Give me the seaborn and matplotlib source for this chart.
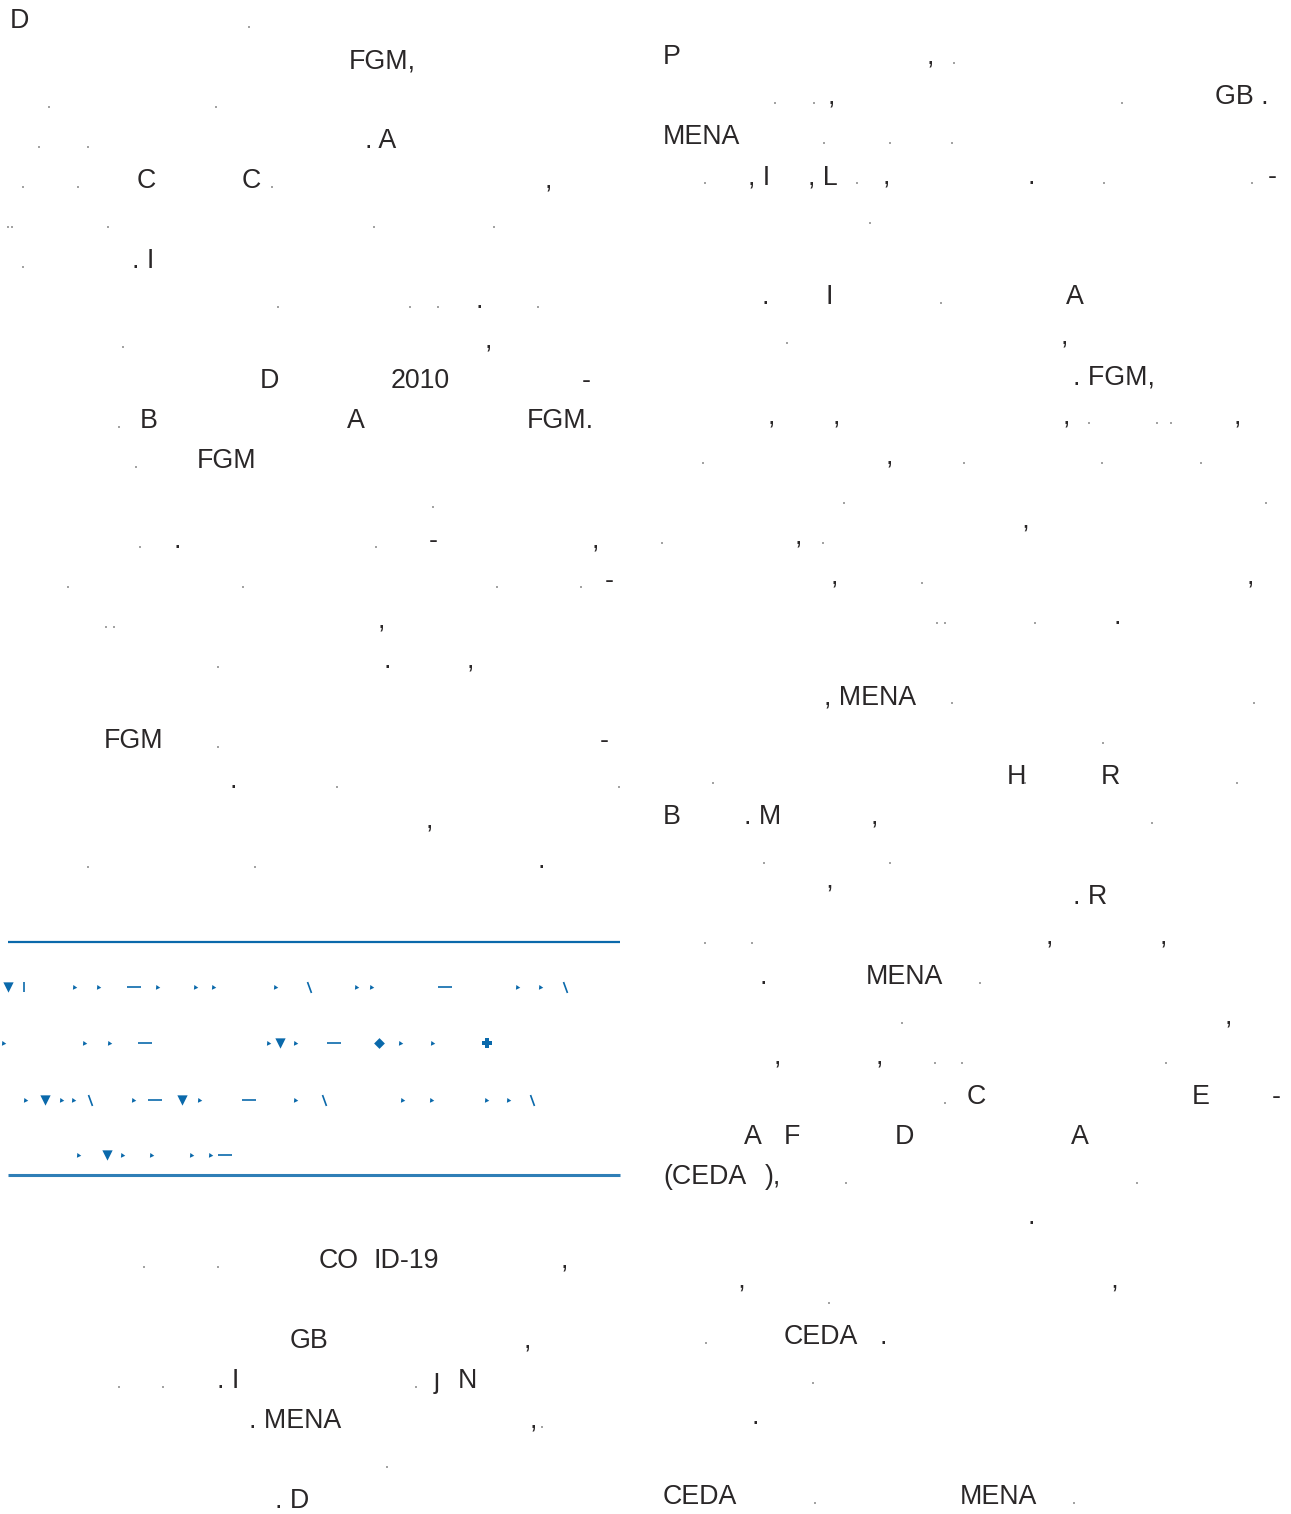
import matplotlib
matplotlib.use("agg")
import matplotlib.pyplot as plt
from matplotlib import font_manager
import seaborn as sns
import pandas as pd

# page geometry (pixels)
pageW = 1291
pageH = 1514
leftTop = 28
rightTop = 64
lineStep = 40

# left column: line index, x, text
leftLine = [0, 1, 3, 4, 4, 4, 6, 7, 8, 9, 9, 9, 10, 10, 10, 11, 13, 13, 13, 14, 15, 16, 16,
            18, 18, 19, 20, 21, 31, 31, 31, 33, 33, 34, 34, 34, 35, 35, 37]
leftX = [10, 349, 365, 137, 242, 545, 132, 475, 485, 260, 391, 582, 140, 347, 527, 197, 174, 429, 592, 605, 378, 384, 467,
         104, 600, 229, 426, 537, 319, 373, 561, 290, 524, 217, 434, 458, 249, 530, 275]
leftText = ["D", "FGM,", ". A", "C", "C", ",", ". I", ".", ",", "D", "2010", "-", "B", "A", "FGM.", "FGM", ".", "-", ",", "-", ",", ".", ",",
            "FGM", "-", ".", ",", ".", "CO", "ID-19", ",", "GB", ",", ". I", "ȷ", "N", ". MENA", ",", ". D"]

# left column specks (broken glyph remains)
leftSpeckLine = [0, 2, 2, 3, 3, 4, 4, 4, 5, 5, 5, 5, 5, 6, 7, 7, 7, 7, 8, 10, 11, 12, 13, 13, 14, 14, 14, 14,
                 15, 15, 16, 18, 19, 19, 21, 21, 31, 31, 34, 34, 34, 35, 36]
leftSpeckX = [249, 49, 216, 39, 88, 23, 78, 272, 8, 12, 108, 374, 494, 23, 278, 410, 438, 538, 123, 119, 136, 433, 140, 376, 68, 243, 497, 581,
              106, 114, 218, 218, 337, 619, 88, 255, 144, 218, 119, 163, 416, 542, 387]

# right column: line index, x, text
rightLine = [0, 0, 1, 1, 2, 3, 3, 3, 3, 3, 6, 6, 6, 7, 8, 9, 9, 9, 9, 10, 12, 12, 13, 13, 14, 16, 18, 18,
             19, 19, 19, 21, 21, 22, 22, 23, 23, 24, 25, 25, 26, 26, 26, 27, 27, 27, 27, 28, 28, 29, 31, 31,
             32, 32, 34, 36, 36]
rightX = [663, 927, 828, 1215, 663, 748, 808, 883, 1028, 1268, 762, 825, 1066, 1061, 1073, 768, 833, 1063, 1234, 886, 1022, 795, 831, 1247, 1113, 824, 1007, 1101,
          663, 744, 871, 826, 1073, 1046, 1160, 760, 866, 1225, 774, 876, 967, 1192, 1272, 744, 784, 895, 1071, 663, 765, 1027, 738, 1111,
          784, 879, 752, 663, 960]
rightText = ["P", ",", ",", "GB .", "MENA", ", I", ", L", ",", ".", "-", ".", "I", "A", ",", ". FGM,", ",", ",", ",", ",", ",", "\u2019", ",", ",", ",", ".", ", MENA", "H", "R",
             "B", ". M", ",", "\u2019", ". R", ",", ",", ".", "MENA", ",", ",", ",", "C", "E", "-", "A", "F", "D", "A", "(CEDA", "),", ".", "\u2019", "\u2019",
             "CEDA", ".", ".", "CEDA", "MENA"]

rightSpeckLine = [0, 1, 1, 1, 2, 2, 2, 3, 3, 3, 3, 4, 6, 7, 9, 9, 9, 10, 10, 10, 10, 11, 11, 12, 12, 13, 14, 14, 14,
                  16, 16, 17, 18, 18, 18, 19, 20, 20, 22, 22, 23, 24, 25, 25, 25, 26, 28, 28, 31, 32, 33, 36, 36]
rightSpeckX = [954, 775, 814, 1122, 824, 890, 952, 705, 857, 1104, 1252, 870, 941, 787, 1089, 1157, 1171, 703, 964, 1102, 1201, 844, 1266, 662, 823, 922, 937, 945, 1035,
               952, 1254, 1103, 713, 1025, 1237, 1152, 764, 890, 705, 752, 980, 902, 935, 962, 1166, 945, 846, 1137, 829, 706, 813, 815, 1074]

# blue box (pull quote) with broken glyph fragments
boxRuleY = [942, 1175]
boxX = [8, 620]
blueRowY = [987, 1043, 1100, 1155]
blueRow = [0, 0, 0, 0, 0, 0, 0, 0, 0, 0, 0, 0, 0, 0, 0, 0,
           1, 1, 1, 1, 1, 1, 1, 1, 1, 1, 1, 1,
           2, 2, 2, 2, 2, 2, 2, 2, 2, 2, 2, 2, 2, 2, 2, 2, 2,
           3, 3, 3, 3, 3, 3, 3]
blueX = [8, 24, 74, 98, 134, 157, 195, 213, 275, 309, 356, 371, 445, 517, 540, 565,
         3, 84, 109, 145, 268, 280, 295, 334, 379, 400, 432, 487,
         25, 45, 61, 73, 90, 133, 155, 182, 199, 249, 295, 324, 402, 431, 486, 508, 532,
         78, 107, 122, 151, 191, 210, 225]
blueKind = ["D", "|", "d", "d", "-", "d", "d", "d", "d", "/", "d", "d", "-", "d", "d", "/",
            "d", "d", "d", "-", "d", "D", "d", "-", "O", "d", "d", "+",
            "d", "D", "d", "d", "/", "d", "-", "D", "d", "-", "d", "/", "d", "d", "d", "d", "/",
            "d", "D", "d", "d", "d", "d", "-"]

textColor = "#2a2728"
blue = "#0a69ab"


def pickFont(names):
    for name in names:
        try:
            font_manager.findfont(name, fallback_to_default=False)
            return name
        except Exception:
            continue
    return "DejaVu Sans"


sns.set_theme(style="white")
fontName = pickFont(["Liberation Sans", "Roboto", "DejaVu Sans"])
plt.rcParams['font.family'] = [fontName, 'DejaVu Sans']

fig = plt.figure(figsize=(pageW / 100, pageH / 100), dpi=100)
ax = fig.add_axes([0, 0, 1, 1])
ax.set_xlim(0, pageW)
ax.set_ylim(pageH, 0)
ax.axis('off')

leftFrame = pd.DataFrame({'line': leftLine, 'x': leftX, 'text': leftText})
leftFrame['y'] = leftTop + lineStep * leftFrame['line']
rightFrame = pd.DataFrame({'line': rightLine, 'x': rightX, 'text': rightText})
rightFrame['y'] = rightTop + lineStep * rightFrame['line']

for frame in [leftFrame, rightFrame]:
    for _, row in frame.iterrows():
        ax.text(row['x'], row['y'], row['text'], fontsize=19.3, color=textColor,
                ha='left', va='baseline')

speckFrame = pd.concat([
    pd.DataFrame({'x': leftSpeckX, 'y': [leftTop + lineStep * l for l in leftSpeckLine]}),
    pd.DataFrame({'x': rightSpeckX, 'y': [rightTop + lineStep * l for l in rightSpeckLine]}),
])
sns.scatterplot(data=speckFrame, x='x', y=speckFrame['y'] - 1, ax=ax, s=2.5, marker='s',
                color='#a3a3a3', linewidth=0, legend=False)

# rules around the pull quote
ax.plot(boxX, [boxRuleY[0]] * 2, color=blue, lw=1.6, solid_capstyle='butt')
ax.plot(boxX, [boxRuleY[1]] * 2, color=blue, lw=2.2, alpha=0.85, solid_capstyle='butt')

blueFrame = pd.DataFrame({'x': blueX, 'row': blueRow, 'kind': blueKind})
blueFrame['y'] = [blueRowY[r] for r in blueFrame['row']]
kindStyle = {
    'd': dict(marker=(3, 0, 25), s=16),
    'D': dict(marker='v', s=55),
    'O': dict(marker=(4, 0, 0), s=60),
    '-': dict(marker='_', s=90),
    '|': dict(marker='|', s=50),
    '/': dict(marker=(2, 0, 20), s=70),
    '+': dict(marker='P', s=45),
}
for kind, style in kindStyle.items():
    sub = blueFrame[blueFrame['kind'] == kind]
    if len(sub) == 0:
        continue
    sns.scatterplot(data=sub, x='x', y='y', ax=ax, color=blue, linewidth=1.2 if kind in '-|/' else 0,
                    edgecolor=blue, legend=False, **style)

ax.set_xlabel('')
ax.set_ylabel('')
fig.savefig('out.png', dpi=100)
plt.close('all')
